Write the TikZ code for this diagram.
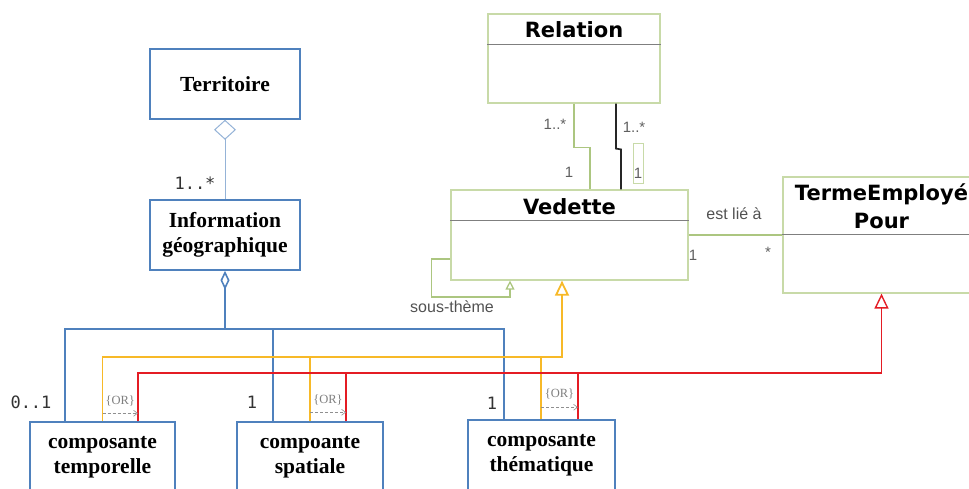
\documentclass[tikz,border=0pt]{standalone}
\usepackage{fontspec}
\setmainfont{Liberation Serif}
\newfontfamily\umlfont{DejaVu Sans}
\newfontfamily\lblfont{Liberation Sans}
\newfontfamily\mnfont{DejaVu Sans Mono}
\usetikzlibrary{arrows.meta,calc}
\definecolor{cblue}{RGB}{79,129,189}
\definecolor{clblue}{RGB}{149,179,215}
\definecolor{cyel}{RGB}{247,185,40}
\definecolor{cred}{RGB}{228,28,36}
\definecolor{cgreen}{RGB}{200,218,168}
\definecolor{cgline}{RGB}{172,198,128}
\definecolor{cgrey}{RGB}{95,95,95}
\begin{document}
\begin{tikzpicture}[x=1pt,y=-1pt,
  bluebox/.style={draw=cblue,line width=1.5pt,inner sep=0pt,align=center,
    font=\fontsize{21.5}{25}\selectfont\bfseries},
  gbox/.style={draw=cgreen,line width=1.2pt,inner sep=0pt},
  umltitle/.style={inner sep=0pt,align=center,font=\umlfont\fontsize{21}{28}\selectfont\bfseries},
  glbl/.style={inner sep=0pt,text=cgrey,font=\lblfont\fontsize{15}{18}\selectfont},
  slbl/.style={inner sep=0pt,text=cgrey!85!black,font=\lblfont\fontsize{16}{19}\selectfont},
  mlbl/.style={inner sep=0pt,text=black!80,font=\mnfont\fontsize{17}{20}\selectfont},
  orlbl/.style={inner sep=0pt,text=cgrey!80,font=\fontsize{12.5}{14}\selectfont},
  orarrow/.style={densely dashed,draw=cgrey!70,line width=0.6pt,-{Straight Barb[length=4pt,width=6pt]}},
  bl/.style={draw=cblue,line width=1.6pt},
  yl/.style={draw=cyel,line width=1.8pt},
  rd/.style={draw=cred,line width=1.4pt},
  gl/.style={draw=cgline,line width=1.3pt},
  gen/.style={-{Triangle[open,length=15pt 0 0,width=14pt 0 0]}}
]
\useasboundingbox (0,0) rectangle (969,488);
\clip (0,0) rectangle (969,488);

% ---------- blue classes ----------
\node[bluebox,minimum width=150pt,minimum height=70pt] (terr) at (225,84) {Territoire};
\node[bluebox,minimum width=150pt,minimum height=70pt] (info) at (225,235) {Information\\géographique};
\node[bluebox,minimum width=145pt,minimum height=70pt] (ct) at (102.5,457) {composante\\temporelle};
\node[bluebox,minimum width=146pt,minimum height=70pt] (cs) at (310,457) {compoante\\spatiale};
\node[bluebox,minimum width=147pt,minimum height=70pt] (cth) at (541.5,455) {composante\\thématique};

% ---------- green classes ----------
\node[gbox,minimum width=172pt,minimum height=89pt] (rel) at (574,58.5) {};
\node[umltitle] (relT) at (574,30) {Relation};
\draw[draw=cgrey!80,line width=0.8pt] ($(rel.north west)+(0,31)$) -- ($(rel.north east)+(0,31)$);

\node[gbox,minimum width=237pt,minimum height=90pt] (ved) at (569.5,235) {};
\node[umltitle] (vedT) at (569.5,207) {Vedette};
\draw[draw=cgrey!80,line width=0.8pt] ($(ved.north west)+(0,31)$) -- ($(ved.north east)+(0,31)$);

\node[gbox,minimum width=197pt,minimum height=116pt] (tep) at (881.5,235) {};
\node[umltitle] (tepT) at (881.5,206) {TermeEmployé\\Pour};
\draw[draw=cgrey!80,line width=0.8pt] ($(tep.north west)+(0,58)$) -- ($(tep.north east)+(0,58)$);

% ---------- coordinates ----------
\coordinate (bB) at (0,329);
\coordinate (bY) at (0,357);
\coordinate (bR) at (0,373);
\coordinate (ctB) at ($(ct.north)+(-37.5,0)$);
\coordinate (ctY) at ($(ct.north)+(0,0)$);
\coordinate (ctR) at ($(ct.north)+(35.5,0)$);
\coordinate (csB) at ($(cs.north)+(-37,0)$);
\coordinate (csY) at ($(cs.north)+(0,0)$);
\coordinate (csR) at ($(cs.north)+(36,0)$);
\coordinate (cthB) at ($(cth.north)+(-37.5,0)$);
\coordinate (cthY) at ($(cth.north)+(-0.5,0)$);
\coordinate (cthR) at ($(cth.north)+(36.5,0)$);
\coordinate (vedY) at ($(ved.south)+(-7.5,0)$);
\coordinate (vedS) at ($(ved.south)+(-59.5,0)$);
\coordinate (vedL) at ($(ved.west)+(0,24)$);
\coordinate (vedG) at ($(ved.north)+(20.5,0)$);
\coordinate (vedK) at ($(ved.north)+(51.5,0)$);
\coordinate (relK) at ($(rel.south)+(42,0)$);

% ---------- Territoire / Information ----------
\draw[draw=clblue,line width=1pt,{Diamond[open,length=20pt 0 0,width=22pt 0 0]}-] (terr.south) -- (info.north);
\draw[bl,{Diamond[open,length=19pt 0 0,width=9pt 0 0]}-] (info.south) -- (info.south |- bB);
\draw[bl] (ctB) |- (cthB |- bB) -- (cthB);
\draw[bl] (csB) -- (csB |- bB);

% ---------- yellow generalisation ----------
\draw[yl,gen] (ctY) |- (vedY |- bY) -- (vedY);
\draw[yl] (csY) -- (csY |- bY);
\draw[yl] (cthY) -- (cthY |- bY);

% ---------- red generalisation ----------
\draw[rd,gen] (ctR) |- (tep.south |- bR) -- (tep.south);
\draw[rd] (csR) -- (csR |- bR);
\draw[rd] (cthR) -- (cthR |- bR);

% ---------- {OR} constraints ----------
\coordinate (o1a) at ($(ctY)+(0,-8)$);  \coordinate (o1b) at ($(ctR)+(0,-8)$);
\coordinate (o2a) at ($(csY)+(0,-9)$);  \coordinate (o2b) at ($(csR)+(0,-9)$);
\coordinate (o3a) at ($(cthY)+(0,-12)$); \coordinate (o3b) at ($(cthR)+(0,-12)$);
\draw[orarrow] (o1a) -- (o1b) node[orlbl,midway,above=7pt] (or1) {\{OR\}};
\draw[orarrow] (o2a) -- (o2b) node[orlbl,midway,above=7pt] (or2) {\{OR\}};
\draw[orarrow] (o3a) -- (o3b) node[orlbl,midway,above=8pt] (or3) {\{OR\}};

% ---------- multiplicities (blue part) ----------
\node[mlbl] (m1) at (195,183) {1..*};
\node[mlbl] (m2) at (31,402) {0..1};
\node[mlbl] (m3) at (252,402) {1};
\node[mlbl] (m4) at (492,403) {1};

% ---------- Relation / Vedette ----------
\draw[gl] (rel.south) |- ($(vedG)+(0,-42)$) -- (vedG);
\draw[draw=black!85,line width=1.7pt] (relK) -- ($(relK)+(0,45)$) -- ($(vedK)+(0,-40)$) -- (vedK);
\node[glbl] (r1) at (555,124) {1..*};
\node[glbl] (r2) at (569,172) {1};
\node[glbl] (r3) at (634,127) {1..*};
\node[draw=cgreen,line width=0.8pt,inner sep=0pt,minimum width=10pt,minimum height=40pt] (onebox) at (638,163) {};
\node[glbl] (r4) at (638,173) {1};

% ---------- sous-theme ----------
\draw[gl,-{Triangle[open,length=9pt 0 0,width=9pt 0 0]}] (vedL) -| ($(vedL)+(-19,38)$) -| (vedS);
\node[slbl] (st) at (452,307) {sous-thème};

% ---------- est lie a ----------
\draw[gl] (ved.east) -- (tep.west);
\node[slbl] (ela) at (734,214) {est lié à};
\node[glbl] (e1) at (693,255) {1};
\node[glbl] (e2) at (768,252) {*};
\end{tikzpicture}
\end{document}
